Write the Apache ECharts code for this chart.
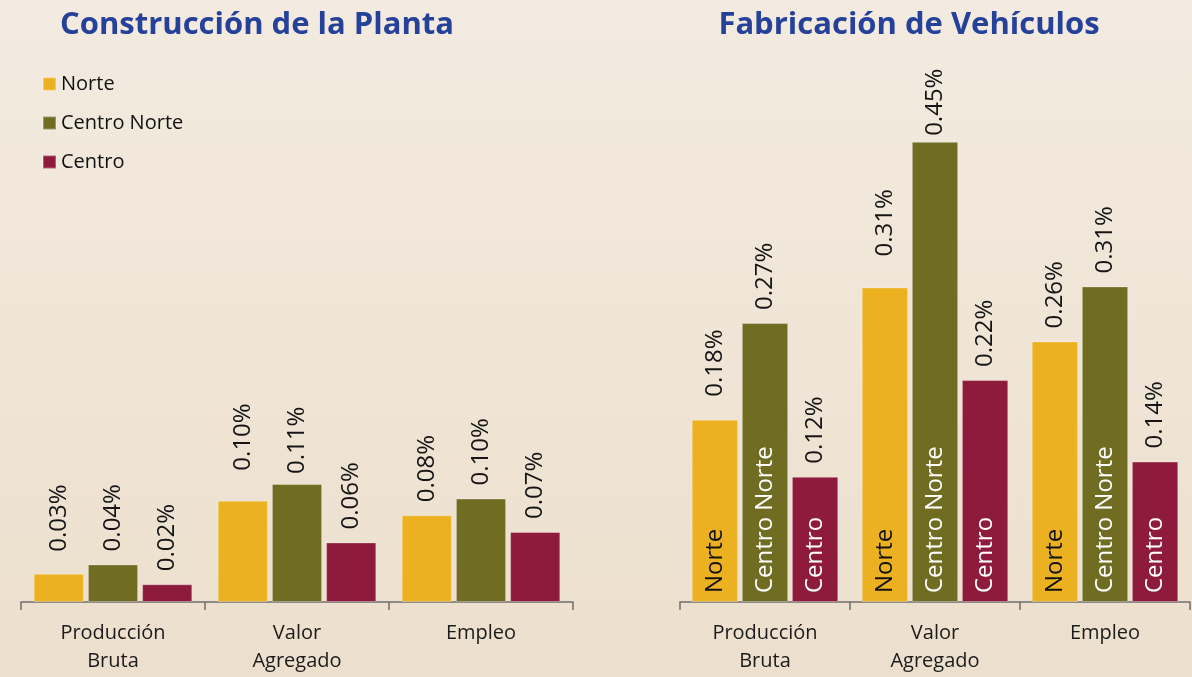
<!DOCTYPE html>
<html>
<head>
<meta charset="utf-8">
<script src="https://cdn.jsdelivr.net/npm/echarts@6/dist/echarts.min.js"></script>
<style>
  html, body { margin: 0; padding: 0; }
  #main { width: 1192px; height: 677px; }
</style>
</head>
<body>
<div id="main"></div>
<script>
// datos (en %)
var categorias = ['Producción\nBruta', 'Valor\nAgregado', 'Empleo'];
var regiones = ['Norte', 'Centro Norte', 'Centro'];

var plantaNorte = [0.027, 0.097, 0.083];
var plantaCentroNorte = [0.036, 0.113, 0.099];
var plantaCentro = [0.017, 0.057, 0.067];

var vehiculosNorte = [0.179, 0.309, 0.256];
var vehiculosCentroNorte = [0.274, 0.452, 0.310];
var vehiculosCentro = [0.123, 0.218, 0.138];

var colores = ['#ebb121', '#706d23', '#8e1b3b'];
var fuente = '"Open Sans", "Noto Sans", sans-serif';

// separación etiqueta-barra (algunas quedaron más altas en el original)
var ajusteEtiqueta = {
    planta: { 'Norte': [22, 30, 13], 'Centro Norte': [13, 10, 13], 'Centro': [13, 13, 13] },
    vehiculos: { 'Norte': [23, 31, 13], 'Centro Norte': [13, 6, 13], 'Centro': [13, 13, 13] }
};

var myCharts = echarts.init(document.getElementById('main'));

function serie(nombre, valores, idx, grafico) {
    var g = grafico === 'vehiculos' ? 1 : 0;
    return {
        name: nombre,
        type: 'bar',
        xAxisIndex: g,
        yAxisIndex: g,
        barGap: '8%',
        barCategoryGap: '13.8%',
        itemStyle: {
            color: colores[idx],
            borderColor: 'rgba(255,255,255,0.3)',
            borderWidth: 1
        },
        label: {
            show: true,
            position: 'top',
            rotate: 90,
            align: 'left',
            verticalAlign: 'middle',
            fontFamily: fuente,
            fontSize: 24,
            color: '#151515',
            formatter: function (p) { return p.value.toFixed(2) + '%'; }
        },
        data: valores.map(function (v, i) {
            return { value: v, label: { distance: ajusteEtiqueta[grafico][nombre][i] } };
        })
    };
}

// nombre de la región dentro de la barra (vehículos): serie transparente en un eje x oculto
function serieNombre(valores, idx) {
    return {
        name: '_' + regiones[idx],
        type: 'bar',
        xAxisIndex: 2,
        yAxisIndex: 1,
        barGap: '8%',
        barCategoryGap: '13.8%',
        z: 4,
        silent: true,
        itemStyle: { color: 'rgba(0,0,0,0)' },
        label: {
            show: true,
            position: 'insideBottom',
            distance: 9,
            rotate: 90,
            align: 'left',
            verticalAlign: 'middle',
            fontFamily: fuente,
            fontSize: 24,
            color: idx === 0 ? '#111111' : '#ffffff',
            formatter: regiones[idx]
        },
        data: valores
    };
}

var ejeX = function (gridIndex) {
    return {
        type: 'category',
        gridIndex: gridIndex,
        data: categorias,
        axisLine: { lineStyle: { color: '#6f6f6f', width: 1.5 } },
        axisTick: { show: true, length: 8, lineStyle: { color: '#6f6f6f', width: 1.5 } },
        axisLabel: {
            fontFamily: fuente,
            fontSize: 20,
            lineHeight: 28,
            margin: 17,
            color: '#1b1b1b'
        },
        splitLine: { show: false }
    };
};

var option = {
    backgroundColor: {
        type: 'linear', x: 0, y: 0, x2: 0, y2: 1,
        colorStops: [
            { offset: 0, color: '#f3ebe0' },
            { offset: 1, color: '#ecdfcd' }
        ]
    },
    animation: false,
    title: [
        {
            text: 'Construcción de la Planta',
            left: 252, top: 5, textAlign: 'center',
            textStyle: { fontFamily: fuente, fontWeight: 'bold', fontSize: 31, color: '#25419a' }
        },
        {
            text: 'Fabricación de Vehículos',
            left: 904, top: 5, textAlign: 'center',
            textStyle: { fontFamily: fuente, fontWeight: 'bold', fontSize: 31, color: '#25419a' }
        }
    ],
    legend: {
        data: regiones,
        orient: 'vertical',
        left: 42,
        top: 74,
        padding: 0,
        icon: 'rect',
        itemWidth: 13,
        itemHeight: 13,
        itemGap: 19,
        selectedMode: false,
        textStyle: { fontFamily: fuente, fontSize: 20, lineHeight: 20, color: '#111111' }
    },
    grid: [
        { left: 21, right: 1192 - 573, top: 602 - 0.4 * 1045, bottom: 75 },
        { left: 680, right: 2, top: 602 - 0.5 * 1018, bottom: 75 }
    ],
    xAxis: [
        ejeX(0),
        ejeX(1),
        { type: 'category', gridIndex: 1, data: categorias, show: false }
    ],
    yAxis: [
        { type: 'value', gridIndex: 0, min: 0, max: 0.4, show: false, splitLine: { show: false } },
        { type: 'value', gridIndex: 1, min: 0, max: 0.5, show: false, splitLine: { show: false } }
    ],
    series: [
        serie('Norte', plantaNorte, 0, 'planta'),
        serie('Centro Norte', plantaCentroNorte, 1, 'planta'),
        serie('Centro', plantaCentro, 2, 'planta'),
        serie('Norte', vehiculosNorte, 0, 'vehiculos'),
        serie('Centro Norte', vehiculosCentroNorte, 1, 'vehiculos'),
        serie('Centro', vehiculosCentro, 2, 'vehiculos'),
        serieNombre(vehiculosNorte, 0),
        serieNombre(vehiculosCentroNorte, 1),
        serieNombre(vehiculosCentro, 2)
    ]
};

myCharts.setOption(option);

window.addEventListener('resize', function () {
    myCharts.resize();
});
</script>
</body>
</html>
